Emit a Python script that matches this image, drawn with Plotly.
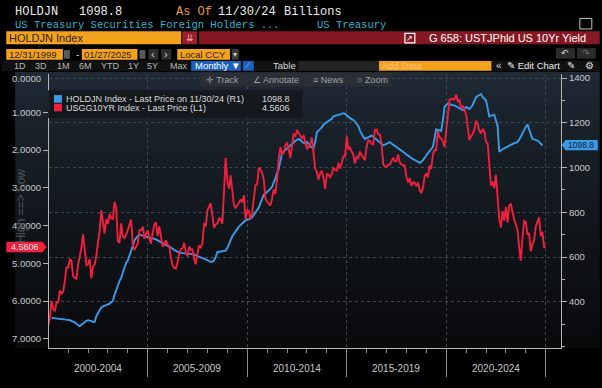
import plotly.graph_objects as go
import pandas as pd

# ---------------- data ----------------
# USGG10YR Index, monthly, Jan 2000 .. Jan 2025 (left axis, inverted)
yield_10y = [
    6.67, 6.41, 6.00, 6.21, 6.27, 6.03, 6.03, 5.72, 5.80, 5.75, 5.47, 5.11,   # 2000
    5.11, 4.90, 4.92, 5.34, 5.38, 5.41, 5.05, 4.84, 4.59, 4.23, 4.75, 5.05,   # 2001
    5.03, 4.88, 5.40, 5.09, 5.04, 4.80, 4.46, 4.14, 3.60, 3.89, 4.21, 3.82,   # 2002
    3.96, 3.69, 3.80, 3.84, 3.37, 3.52, 4.41, 4.46, 3.94, 4.29, 4.33, 4.25,   # 2003
    4.13, 3.97, 3.84, 4.51, 4.65, 4.58, 4.48, 4.12, 4.12, 4.03, 4.35, 4.22,   # 2004
    4.13, 4.36, 4.48, 4.20, 3.98, 3.91, 4.28, 4.02, 4.32, 4.56, 4.49, 4.39,   # 2005
    4.52, 4.55, 4.85, 5.05, 5.12, 5.14, 4.98, 4.73, 4.63, 4.60, 4.46, 4.70,   # 2006
    4.82, 4.56, 4.64, 4.63, 4.89, 5.03, 4.74, 4.53, 4.58, 4.47, 3.94, 4.02,   # 2007
    3.59, 3.51, 3.41, 3.73, 4.06, 3.97, 3.95, 3.81, 3.83, 3.95, 2.92, 2.21,   # 2008
    2.84, 3.02, 2.67, 3.12, 3.46, 3.53, 3.48, 3.40, 3.31, 3.38, 3.20, 3.84,   # 2009
    3.59, 3.61, 3.83, 3.66, 3.29, 2.93, 2.91, 2.47, 2.51, 2.60, 2.79, 3.29,   # 2010
    3.37, 3.42, 3.47, 3.29, 3.05, 3.16, 2.80, 2.22, 1.92, 2.11, 2.07, 1.88,   # 2011
    1.80, 1.98, 2.21, 1.91, 1.56, 1.65, 1.47, 1.55, 1.63, 1.69, 1.61, 1.76,   # 2012
    1.98, 1.88, 1.85, 1.67, 2.13, 2.49, 2.58, 2.78, 2.61, 2.55, 2.74, 3.03,   # 2013
    2.64, 2.65, 2.72, 2.65, 2.47, 2.53, 2.56, 2.34, 2.49, 2.34, 2.16, 2.17,   # 2014
    1.64, 1.99, 1.92, 2.03, 2.12, 2.35, 2.18, 2.21, 2.04, 2.14, 2.21, 2.27,   # 2015
    1.92, 1.73, 1.77, 1.83, 1.85, 1.47, 1.45, 1.58, 1.59, 1.83, 2.38, 2.44,   # 2016
    2.45, 2.39, 2.39, 2.28, 2.20, 2.30, 2.29, 2.12, 2.33, 2.38, 2.41, 2.41,   # 2017
    2.72, 2.86, 2.74, 2.95, 2.86, 2.86, 2.96, 2.86, 3.06, 3.14, 3.01, 2.69,   # 2018
    2.63, 2.72, 2.41, 2.50, 2.12, 2.00, 2.01, 1.50, 1.66, 1.69, 1.78, 1.92,   # 2019
    1.51, 1.15, 0.67, 0.64, 0.65, 0.66, 0.53, 0.71, 0.68, 0.88, 0.84, 0.92,   # 2020
    1.07, 1.41, 1.74, 1.63, 1.58, 1.47, 1.22, 1.31, 1.49, 1.55, 1.44, 1.51,   # 2021
    1.78, 1.83, 2.34, 2.94, 2.84, 3.01, 2.65, 3.19, 3.83, 4.05, 3.61, 3.87,   # 2022
    3.51, 3.92, 3.47, 3.42, 3.64, 3.84, 3.96, 4.11, 4.57, 4.93, 4.33, 3.88,   # 2023
    3.91, 4.25, 4.20, 4.68, 4.50, 4.40, 4.03, 3.90, 3.78, 4.28, 4.17, 4.57,   # 2024
    4.5606,                                                                   # 2025
]
yield_start = "2000-01-01"

# HOLDJN Index (Japan holdings of US Treasuries, $bn), monthly, Mar 2000 .. Nov 2024 (right axis)
japan_holdings = [
    328, 327, 326, 325, 325, 324, 323, 323, 322, 322,                         # 2000 (Mar-Dec)
    320, 318, 315, 312, 308, 302, 296, 291, 298, 305, 310, 315,               # 2001
    318, 317, 314, 311, 310, 335, 352, 362, 375, 380, 383, 385,               # 2002
    388, 392, 398, 405, 430, 455, 475, 493, 508, 530, 555, 575,               # 2003
    585, 605, 630, 651, 675, 688, 695, 700, 698, 695, 694, 693,               # 2004
    690, 688, 686, 684, 681, 679, 675, 671, 667, 663, 660, 657,               # 2005
    653, 648, 643, 638, 632, 627, 622, 620, 619, 618, 617, 616,               # 2006
    616, 615, 615, 615, 612, 608, 604, 600, 597, 595, 593, 589,               # 2007
    585, 581, 579, 579, 585, 600, 622, 624, 625, 627, 628, 629,               # 2008
    640, 655, 675, 693, 702, 712, 725, 736, 745, 752, 758, 764,               # 2009
    766, 768, 772, 779, 788, 798, 810, 822, 840, 860, 879, 884,               # 2010
    890, 898, 905, 914, 930, 952, 975, 993, 1030, 1064, 1072, 1078,           # 2011
    1086, 1092, 1098, 1104, 1112, 1120, 1126, 1128, 1122, 1115, 1110, 1107,   # 2012
    1115, 1105, 1093, 1090, 1086, 1115, 1157, 1165, 1172, 1180, 1193, 1198,   # 2013
    1200, 1205, 1210, 1218, 1229, 1232, 1235, 1236, 1238, 1240, 1243, 1240,   # 2014
    1235, 1228, 1222, 1216, 1214, 1205, 1195, 1186, 1165, 1150, 1138, 1128,   # 2015
    1132, 1138, 1140, 1143, 1138, 1132, 1128, 1122, 1115, 1108, 1100, 1103,   # 2016
    1107, 1110, 1114, 1108, 1103, 1098, 1093, 1088, 1082, 1076, 1071, 1065,   # 2017
    1058, 1052, 1047, 1043, 1038, 1034, 1030, 1025, 1021, 1025, 1032, 1043,   # 2018
    1055, 1065, 1072, 1082, 1093, 1130, 1171, 1168, 1166, 1164, 1210, 1271,   # 2019
    1280, 1286, 1283, 1280, 1279, 1278, 1275, 1270, 1265, 1260, 1257, 1265,   # 2020
    1271, 1266, 1262, 1270, 1280, 1298, 1314, 1320, 1325, 1329, 1315, 1305,   # 2021
    1300, 1265, 1229, 1232, 1234, 1236, 1212, 1186, 1071, 1078, 1082, 1086,   # 2022
    1090, 1095, 1100, 1104, 1107, 1109, 1111, 1114, 1125, 1140, 1157, 1170,   # 2023
    1182, 1193, 1172, 1150, 1128, 1126, 1124, 1121, 1115, 1108, 1098.8,       # 2024 (Jan-Nov)
]
holdings_start = "2000-03-01"

left_ticks = [1, 2, 3, 4, 5, 6, 7]
left_tick_text = ["1.0000", "2.0000", "3.0000", "4.0000", "5.0000", "6.0000", "7.0000"]
left_top_label = "0.0000"   # top tick label, drawn slightly below the panel edge like the original
right_ticks = [400, 600, 800, 1000, 1200, 1400]
right_tick_text = ["400", "600", "800", "1000", "1200", "1400"]
period_bounds = ["2000-01-01", "2005-01-01", "2010-01-01", "2015-01-01", "2020-01-01", "2025-01-01"]
period_centers = ["2002-07-02", "2007-07-02", "2012-07-02", "2017-07-02", "2022-07-02"]
period_labels = ["2000-2004", "2005-2009", "2010-2014", "2015-2019", "2020-2024"]

last_holdings = "1098.8"
last_yield = "4.5606"

# ---------------- geometry helpers ----------------
W, H = 602, 388
L, R, T, B = 48, 39, 74, 28
PW, PH = W - L - R, H - T - B


def X(px):
    return (px - L) / PW


def Y(py):
    return (H - B - py) / PH


MONO = "Liberation Mono, DejaVu Sans Mono, monospace"
SANS = "Liberation Sans, Arial, sans-serif"
BLUE = "#3c9be8"
RED = "#f0203e"
ORANGE = "#f4a21e"
GRID = "#3f4954"
AXIS = "#b5b5b5"

shapes = []
annots = []


def rect(x0, y0, x1, y1, color, layer="above", line=None, opacity=1):
    shapes.append(dict(type="rect", xref="paper", yref="paper",
                       x0=X(x0), x1=X(x1), y0=Y(y1), y1=Y(y0),
                       fillcolor=color, opacity=opacity,
                       line=dict(width=0) if line is None else line, layer=layer))


def poly(pts, color, layer="above"):
    d = "M " + " L ".join(f"{X(a):.5f},{Y(b):.5f}" for a, b in pts) + " Z"
    shapes.append(dict(type="path", xref="paper", yref="paper", path=d,
                       fillcolor=color, line=dict(width=0), layer=layer))


def text(s, x, y, size=10, color="#e0e0e0", family=SANS, anchor="left", angle=0):
    annots.append(dict(text=s, x=X(x), y=Y(y), xref="paper", yref="paper",
                       xanchor=anchor, yanchor="middle", showarrow=False,
                       textangle=angle, borderpad=0,
                       font=dict(family=family, size=size, color=color)))


# ---------------- background gradient of the chart panel ----------------
top_c, bot_c = (31, 42, 53), (9, 10, 12)
N = 36
y_top, y_bot = 72, 360
for i in range(N):
    f = (i / (N - 1)) ** 0.8
    c = tuple(round(top_c[k] + (bot_c[k] - top_c[k]) * f) for k in range(3))
    ya = y_top + (y_bot - y_top) * i / N
    yb = y_top + (y_bot - y_top) * (i + 1) / N + 0.5
    rect(14, ya, W, yb, "rgb(%d,%d,%d)" % c, layer="below")

# ---------------- header ----------------
text("HOLDJN", 13, 9, 12, "#ececec", MONO)
text("1098.8", 77, 9, 12, "#ececec", MONO)
text("As Of", 175, 9, 12, "#e89a3a", MONO)
text("11/30/24", 217, 9, 12, "#ececec", MONO)
text("Billions", 283, 9, 12, "#ececec", MONO)
text("US Treasury Securities Foreign Holders ...", 13, 23, 10.5, "#38b2cc", MONO)
text("US Treasury", 317, 23, 10.5, "#38b2cc", MONO)
rect(582, 16, 594, 27, "rgba(0,0,0,0)", line=dict(color="#c8c8c8", width=1))

# row 3
rect(5, 29.5, 181, 43, ORANGE)
text("HOLDJN Index", 7, 36.5, 11, "#2e2210")
rect(182, 29.5, 197, 43, "#9a1e2c")
text("⇊", 189.5, 36.5, 9, "#f4b0b8", anchor="center")
rect(199, 29.5, W, 43, "#861823")
rect(406, 31.5, 416, 41.5, "rgba(0,0,0,0)", line=dict(color="#ffffff", width=1.2))
text("↗", 411, 36.5, 8, "#ffffff", anchor="center")
text("G 658: USTJPhld US 10Yr Yield", 589, 36.5, 11, "#ffffff", anchor="right")

# row 4
rect(5, 48, 62, 59, ORANGE)
text("12/31/1999", 6.5, 53.5, 9.5, "#2e2210")
rect(63, 49, 69, 58, "#5a5a5a")
text("-", 74, 53.5, 10, "#dddddd")
rect(81, 48, 137, 59, ORANGE)
text("01/27/2025", 82.5, 53.5, 9.5, "#2e2210")
rect(139, 49, 145, 58, "#5a5a5a")
rect(148, 48, 158, 59, "#2e2e2e")
text("‹", 153, 53.5, 11, "#d0d0d0", anchor="center")
rect(161, 48, 171, 59, "#2e2e2e")
text("›", 166, 53.5, 11, "#d0d0d0", anchor="center")
rect(177, 48, 230, 59, ORANGE)
text("Local CCY", 179, 53.5, 9.5, "#2e2210")
rect(232, 48, 239, 59, "#3a3a3a")
text("▾", 235.5, 53.5, 8, "#cccccc", anchor="center")
rect(558, 47, 577, 58, "#2b2b2b")
text("↶", 567.5, 52.5, 9, "#d8d8d8", anchor="center")
rect(579, 47, 598, 58, "#2b2b2b")
text("↷", 588.5, 52.5, 9, "#777777", anchor="center")

# row 5
rect(0, 60, W, 71, "#111111")
for lab, xx in [("1D", 12), ("3D", 33), ("1M", 55), ("6M", 77), ("YTD", 99), ("1Y", 126), ("5Y", 146), ("Max", 169)]:
    text(lab, xx, 65.3, 9, "#b9b9b9")
rect(191, 60.5, 241, 70.5, "#1b62c0")
text("Monthly ▼", 194, 65.5, 9.5, "#ffffff")
rect(243, 60.5, 254, 70.5, "#1b62c0")
text("⟋", 248.5, 65.5, 8, "#9cc8ff", anchor="center")
text("Table", 272, 65.5, 9.5, "#d8d8d8")
rect(299, 60.5, 380, 70.5, "#232323")
rect(380, 60.5, 493, 70.5, ORANGE)
text("Add Data", 382, 65.5, 9.5, "#f9c47e")
text("«", 497, 65.5, 10, "#d8d8d8")
text("✎ Edit Chart", 508, 65.5, 9.5, "#e8e8e8")
text("✎", 568, 65.5, 9.5, "#e0e0e0")
text("⚙", 586, 65.5, 9.5, "#e0e0e0")

# row 6 toolbar
rect(200, 73, 393, 87, "#2a3036", opacity=0.97)
text("✛ Track", 205, 80, 9, "#9da3a9")
text("∠ Annotate", 252, 80, 9, "#9da3a9")
text("≡ News", 313, 80, 9, "#9da3a9")
text("○ Zoom", 357, 80, 9, "#9da3a9")

# ---------------- legend ----------------
rect(47, 91, 303, 120, "#14181c", opacity=0.92)
rect(53, 96, 61, 104, BLUE)
rect(53, 105, 61, 113, RED)
text("HOLDJN Index - Last Price on 11/30/24 (R1)", 64, 100, 9, "#dcdcdc")
text("USGG10YR Index - Last Price (L1)", 64, 109.5, 9, "#dcdcdc")
text(last_holdings, 291, 100, 9, "#dcdcdc", anchor="right")
text(last_yield, 291, 109.5, 9, "#dcdcdc", anchor="right")

# ---------------- last value badges ----------------
rect(567, 143, 600, 153.5, BLUE)
poly([(563.5, 148.2), (567.2, 143.6), (567.2, 152.9)], BLUE)
text(last_holdings, 583.5, 148.3, 8.5, "#0c1c2e", anchor="center")
rect(5, 249, 42, 260, RED)
poly([(45.5, 254.5), (41.8, 249.5), (41.8, 259.5)], RED)
text(last_yield, 23.5, 254.5, 9, "#ffe6ea", anchor="center")

# top left tick label
text(left_top_label, 41, 78.5, 9.5, "#c9c9c9", anchor="right")

# rotated axis caption
text("High ==> Low", 20, 212, 12, "#4d555d", anchor="center", angle=-90)

# period labels on the x axis
for c, lab in zip(period_centers, period_labels):
    annots.append(dict(text=lab, x=c, y=Y(381), xref="x", yref="paper",
                       xanchor="center", yanchor="middle", showarrow=False,
                       font=dict(family=SANS, size=10, color="#c8c8c8")))

# ---------------- traces ----------------
hold_dates = pd.date_range(holdings_start, periods=len(japan_holdings), freq="MS")
yield_dates = pd.date_range(yield_start, periods=len(yield_10y), freq="MS")

fig = go.Figure()
fig.add_trace(go.Scatter(x=hold_dates, y=japan_holdings, yaxis="y", mode="lines",
                         line=dict(color=BLUE, width=1.9), hoverinfo="skip", showlegend=False))
fig.add_trace(go.Scatter(x=yield_dates, y=yield_10y, yaxis="y2", mode="lines",
                         line=dict(color=RED, width=1.9), hoverinfo="skip", showlegend=False))

tickfont = dict(family=SANS, size=9.5, color="#c9c9c9")
fig.update_layout(
    width=W, height=H,
    margin=dict(l=L, r=R, t=T, b=B, pad=0),
    paper_bgcolor="#000000",
    plot_bgcolor="rgba(0,0,0,0)",
    showlegend=False,
    xaxis=dict(type="date", range=["2000-01-15", "2025-10-08"],
               tickvals=period_bounds, ticktext=[""] * len(period_bounds),
               ticks="outside", ticklen=28, tickcolor="#8c8c8c", tickwidth=1,
               showgrid=True, gridcolor=GRID, griddash="dot", gridwidth=1,
               showline=True, linecolor=AXIS, linewidth=1, zeroline=False,
               minor=dict(dtick="M12", tick0="2000-01-01", ticks="outside", ticklen=4,
                          tickcolor="#8c8c8c", showgrid=False)),
    yaxis=dict(side="right", range=[193.6, 1418.4],
               tickvals=right_ticks, ticktext=right_tick_text, tickfont=tickfont,
               ticks="outside", ticklen=5, tickcolor=AXIS,
               showgrid=True, gridcolor=GRID, griddash="dot", gridwidth=1,
               showline=True, linecolor=AXIS, linewidth=1, zeroline=False,
               minor=dict(dtick=100, tick0=0, ticks="outside", ticklen=3, tickcolor=AXIS,
                          showgrid=False)),
    yaxis2=dict(side="left", overlaying="y", range=[7.244, -0.015],
                tickvals=left_ticks, ticktext=left_tick_text, tickfont=tickfont,
                ticks="outside", ticklen=5, tickcolor=AXIS,
                showgrid=False, showline=True, linecolor=AXIS, linewidth=1, zeroline=False),
    shapes=shapes,
    annotations=annots,
)

# remove the browser's default 8px page margin so the figure fills the window exactly
fig.write_html("out.html",
               config={"displayModeBar": False},
               post_script="document.body.style.margin='0';document.body.style.overflow='hidden';"
                           "document.body.style.background='#000';")
